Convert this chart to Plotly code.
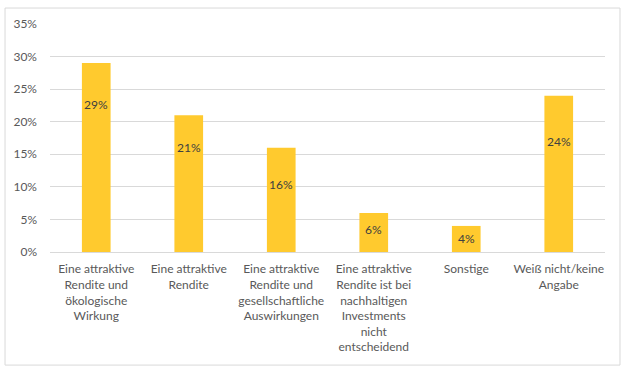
import plotly.graph_objects as go

categories = [
    "Eine attraktive<br>Rendite und<br>ökologische<br>Wirkung",
    "Eine attraktive<br>Rendite",
    "Eine attraktive<br>Rendite und<br>gesellschaftliche<br>Auswirkungen",
    "Eine attraktive<br>Rendite ist bei<br>nachhaltigen<br>Investments<br>nicht<br>entscheidend",
    "Sonstige",
    "Weiß nicht/keine<br>Angabe",
]
values = [29, 21, 16, 6, 4, 24]
label_y = [22.6, 16.0, 10.3, 3.4, 2.1, 17.0]
tick_vals = [0, 5, 10, 15, 20, 25, 30, 35]
tick_text = ["0%", "5%", "10%", "15%", "20%", "25%", "30%", "35%"]

FONT = "Lato, Open Sans, Liberation Sans, sans-serif"
GREY = "#595959"

fig = go.Figure()
fig.add_trace(go.Bar(
    x=list(range(len(categories))), y=values,
    marker=dict(color="#FFCA2E", line=dict(width=0)),
    width=0.31, hoverinfo="skip",
))
for i, (v, ly) in enumerate(zip(values, label_y)):
    fig.add_annotation(x=i, y=ly, text=f"{v}%", showarrow=False,
                       font=dict(family=FONT, size=12, color="#404040"))

fig.add_shape(type="rect", xref="paper", yref="paper",
              x0=-0.081, x1=1.027, y0=-0.496, y1=1.070,
              line=dict(color="#D9D9D9", width=1), fillcolor="rgba(0,0,0,0)")

fig.update_layout(
    width=631, height=375,
    margin=dict(l=50, r=26, t=24, b=123, autoexpand=False),
    paper_bgcolor="white", plot_bgcolor="white",
    showlegend=False,
    font=dict(family=FONT, size=12, color=GREY),
    bargap=0.69,
)
fig.update_xaxes(
    tickmode="array", tickvals=list(range(len(categories))), ticktext=categories,
    range=[-0.5, len(categories) - 0.5], automargin=False,
    showgrid=False, showline=True, linecolor="#D9D9D9", linewidth=1,
    ticks="", tickangle=0, tickfont=dict(family=FONT, size=12, color=GREY),
    ticklabelstandoff=6,
    zeroline=False,
)
fig.update_yaxes(
    range=[0, 35], tickmode="array", tickvals=tick_vals, ticktext=tick_text,
    showgrid=True, gridcolor="#D9D9D9", gridwidth=1, automargin=False,
    zeroline=False, showline=False, ticks="",
    ticklabelstandoff=12,
    tickfont=dict(family=FONT, size=12, color=GREY),
)

fig.write_html("out.html", config={"displayModeBar": False},
               post_script="document.body.style.margin='0';")
